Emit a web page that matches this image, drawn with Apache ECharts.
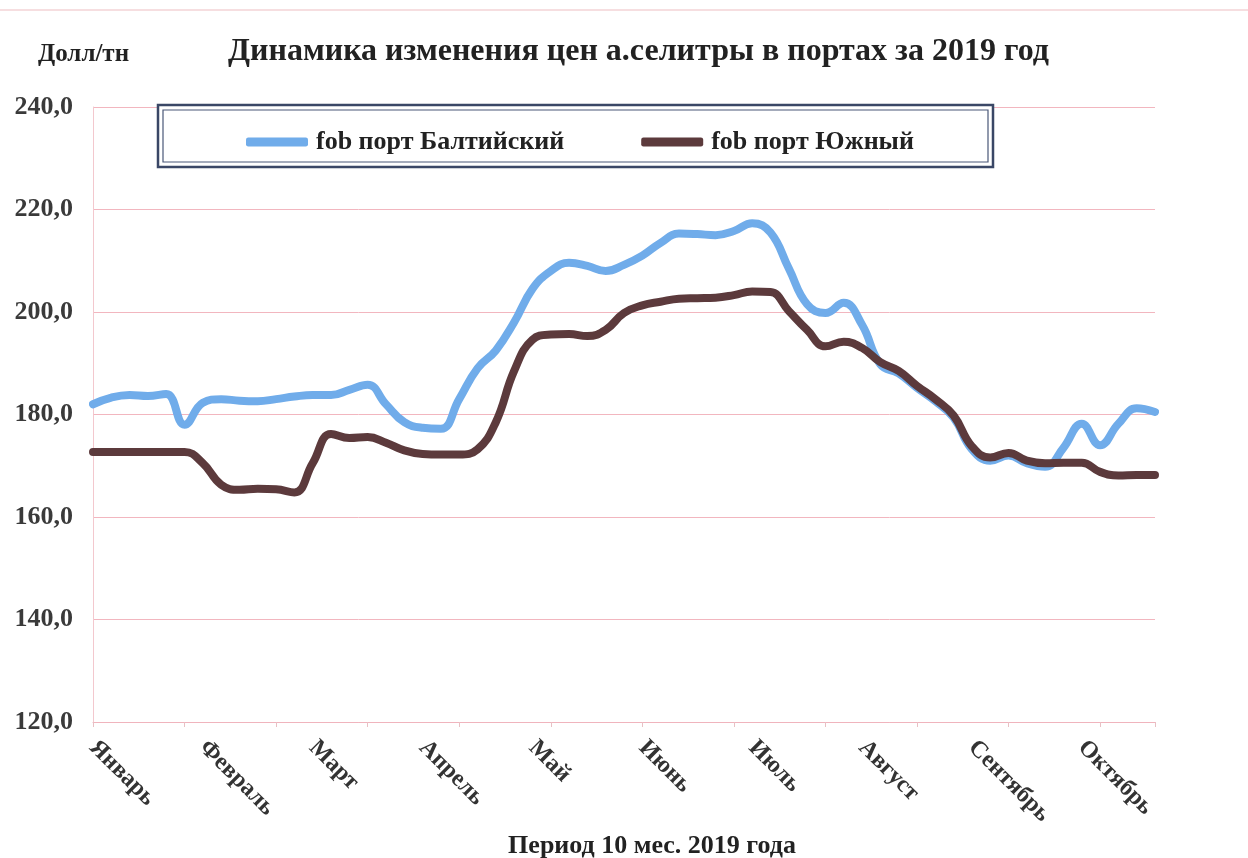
<!DOCTYPE html>
<html>
<head>
<meta charset="utf-8">
<script src="https://cdn.jsdelivr.net/npm/echarts@6/dist/echarts.min.js"></script>
<style>
html,body{margin:0;padding:0;background:#fff;}
#chart{width:1248px;height:858px;}
</style>
</head>
<body>
<div id="chart"></div>
<script>
var months = ['Январь','Февраль','Март','Апрель','Май','Июнь','Июль','Август','Сентябрь','Октябрь'];
var pointsPerMonth = 6;
var yTicks = [120, 140, 160, 180, 200, 220, 240];
var baltic = [182,183.3,183.8,183.6,184,178,182.3,183,182.7,182.6,183,183.5,183.8,183.8,184.8,185.8,182,178.5,177.4,177.2,183,189,192.5,198,204.5,208,209.6,209,208,209.2,211,213.5,215.3,215.2,215,215.8,217.3,215.5,208.5,201.5,199.8,201.8,197.5,189.8,188,185.2,182.6,179.4,173.2,171,172,170.5,169.8,173.5,178.2,174,178.2,181.2,180.5];
var south = [172.7,172.7,172.7,172.7,172.7,172.7,170.5,166.3,165.3,165.5,165.4,164.8,170.5,176.2,175.4,175.6,174.5,173,172.3,172.2,172.2,173.2,178.5,188.5,194.6,195.6,195.7,195.3,196.5,199.8,201.3,202,202.6,202.7,202.8,203.3,204,203.9,200.2,196.5,193.3,194.2,193,190.2,188.5,185.6,183,179.8,173.8,171.6,172.5,171,170.5,170.6,170.6,168.8,168.1,168.2,168.2];
var seriesNames = ['fob порт Балтийский','fob порт Южный'];

var categories = baltic.map(function(_, i){
  return (i % pointsPerMonth === 0 && months[i / pointsPerMonth]) ? months[i / pointsPerMonth] : '';
});

var FONT = '"Liberation Serif","Times New Roman",serif';
var chart = echarts.init(document.getElementById('chart'));
chart.setOption({
  backgroundColor: '#fff',
  animation: false,
  title: [
    {text: 'Динамика изменения цен а.селитры в портах за 2019 год', left: 223, top: 31,
     textStyle: {fontFamily: FONT, fontSize: 32, fontWeight: 'bold', color: '#222'}},
    {text: 'Долл/тн', left: 33, top: 37,
     textStyle: {fontFamily: FONT, fontSize: 25, fontWeight: 'bold', color: '#222'}}
  ],
  graphic: [
    {type: 'line', shape: {x1: 0, y1: 10, x2: 1248, y2: 10}, style: {stroke: '#f3d3d6', lineWidth: 1.5}, z: 0},
    {type: 'rect', shape: {x: 158, y: 105, width: 835, height: 62}, style: {fill: '#fff', stroke: '#3a4766', lineWidth: 2.5}, z: 5},
    {type: 'rect', shape: {x: 163, y: 110, width: 825, height: 52}, style: {fill: 'none', stroke: '#4a5878', lineWidth: 1.2}, z: 5}
  ],
  legend: {
    data: seriesNames,
    left: 241, top: 124,
    itemWidth: 62, itemHeight: 9, itemGap: 77,
    icon: 'roundRect',
    z: 10,
    textStyle: {fontFamily: FONT, fontSize: 26, fontWeight: 'bold', color: '#222', padding: [0,0,0,3]}
  },
  grid: {left: 93, right: 93, top: 107, bottom: 136, containLabel: false, outerBoundsMode: 'none'},
  xAxis: {
    type: 'category',
    data: categories,
    boundaryGap: false,
    name: 'Период 10 мес. 2019 года',
    nameLocation: 'middle',
    nameGap: 107,
    nameTextStyle: {fontFamily: FONT, fontSize: 26, fontWeight: 'bold', color: '#222', padding: [0,0,0,56]},
    axisLine: {lineStyle: {color: '#f0b4bd', width: 1}},
    axisTick: {interval: 4, length: 5, lineStyle: {color: '#e8c0c4'}},
    axisLabel: {interval: 0, rotate: -45, margin: 22, fontFamily: FONT, fontSize: 24, fontWeight: 'bold', color: '#333'},
    splitLine: {show: false}
  },
  yAxis: {
    type: 'value',
    min: yTicks[0], max: yTicks[yTicks.length - 1], interval: 20,
    axisLine: {show: true, lineStyle: {color: '#f3c8ce', width: 1}},
    axisTick: {show: false},
    axisLabel: {margin: 20, fontFamily: FONT, fontSize: 26, fontWeight: 'bold', color: '#3a3a3a',
      formatter: function(v){ return v.toFixed(1).replace('.', ','); }},
    splitLine: {lineStyle: {color: '#f2b6bf', width: 1}}
  },
  series: [
    {name: seriesNames[0], type: 'line', data: baltic, smooth: 0.45, symbol: 'none',
     itemStyle: {color: '#70acea'}, lineStyle: {color: '#70acea', width: 8, cap: 'round', join: 'round'}},
    {name: seriesNames[1], type: 'line', data: south, smooth: 0.45, symbol: 'none',
     itemStyle: {color: '#5c3a3c'}, lineStyle: {color: '#5c3a3c', width: 8, cap: 'round', join: 'round'}}
  ]
});
</script>
</body>
</html>
